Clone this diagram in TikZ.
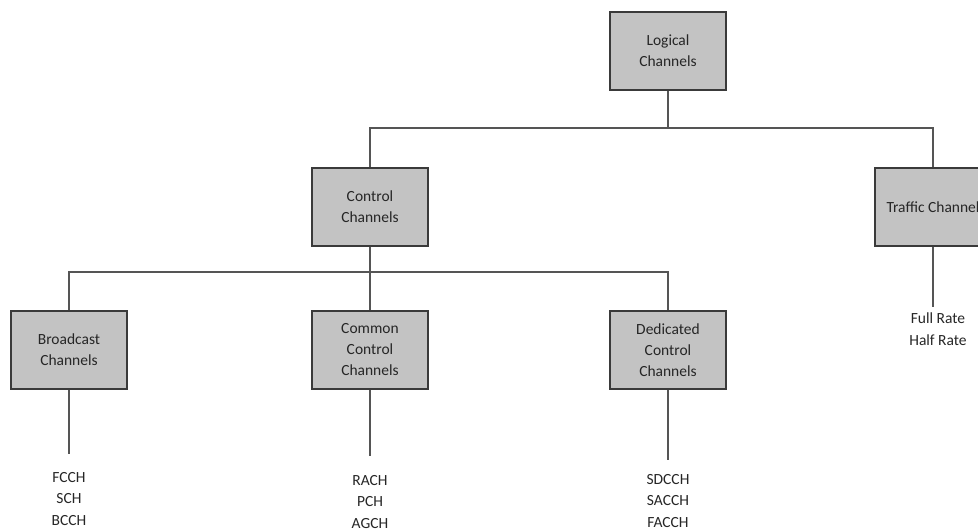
\documentclass[tikz,border=0pt]{standalone}
\usepackage{fontspec}
\setmainfont{Carlito}
\usepackage{xcolor}
\usepackage{tikz}
\usetikzlibrary{
  positioning
}
\definecolor{boxfill}{HTML}{C3C3C3}
\definecolor{boxline}{HTML}{3A3A3A}
\definecolor{wire}{HTML}{555555}
\definecolor{txt}{HTML}{262626}

\begin{document}
\begin{tikzpicture}[
        x=1pt,y=-1pt,
        chbox/.style={
            draw=boxline,
            line width=1.4pt,
            fill=boxfill,
            minimum width=116pt,
            minimum height=78pt,
            align=center,
            text=txt,
            font=\fontsize{15.5}{21}\selectfont
          },leaf/.style={
            align=center,
            text=txt,
            font=\fontsize{15.5}{21.5}\selectfont
          },wire/.style={
            draw=wire,
            line width=1.2pt
          }
      ]
      % 描画範囲
      \useasboundingbox (0,0) rectangle (978,531);

      % 箱の配置
      \node[chbox] (logical) at (668,51) {Logical\\Channels};
      \node[chbox] (control) at (370,207) {Control\\Channels};
      \node[chbox] (traffic) at (933,207) {Traffic Channel};
      \node[chbox] (broadcast) at (69,350) {Broadcast\\Channels};
      \node[chbox] (common) at (370,350) {Common\\Control\\Channels};
      \node[chbox] (dedicated) at (668,350) {Dedicated\\Control\\Channels};

      % 分岐点と末端
      \coordinate (bus_top) at (668,128);
      \coordinate (bus_mid) at (370,272);
      \coordinate (broadcast_end) at (69,454);
      \coordinate (common_end) at (370,456);
      \coordinate (dedicated_end) at (668,460);
      \coordinate (traffic_end) at (933,307);

      % 一覧
      \node[leaf] (broadcast_list) at (69,499) {FCCH\\SCH\\BCCH};
      \node[leaf] (common_list) at (370,502) {RACH\\PCH\\AGCH};
      \node[leaf] (dedicated_list) at (668,501) {SDCCH\\SACCH\\FACCH};
      \node[leaf] (traffic_list) at (938,329) {Full Rate\\Half Rate};

      % 上段の接続
      \draw[wire] (logical.south) -- (bus_top);
      \draw[wire] (bus_top) -| (control.north);
      \draw[wire] (bus_top) -| (traffic.north);
      % 中段の接続
      \draw[wire] (control.south) -- (bus_mid);
      \draw[wire] (bus_mid) -| (broadcast.north);
      \draw[wire] (bus_mid) -| (dedicated.north);
      \draw[wire] (bus_mid) -- (common.north);
      % 末端への線
      \draw[wire] (broadcast.south) -- (broadcast_end);
      \draw[wire] (common.south) -- (common_end);
      \draw[wire] (dedicated.south) -- (dedicated_end);
      \draw[wire] (traffic.south) -- (traffic_end);

    \end{tikzpicture}
\end{document}
